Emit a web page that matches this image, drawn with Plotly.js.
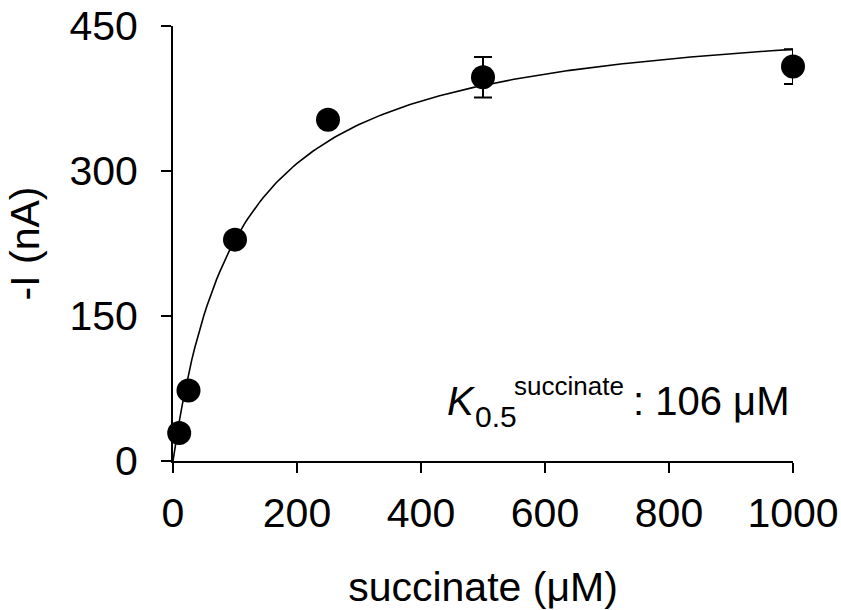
<!DOCTYPE html>
<html>
<head>
<meta charset="utf-8">
<script src="https://cdn.plot.ly/plotly-3.0.1.min.js"></script>
<style>html,body{margin:0;padding:0;background:#fff;}#chart{width:841px;height:610px;}</style>
</head>
<body>
<div id="chart"></div>
<script>
// Measured data
var concentration = [10, 25, 100, 250, 500, 1000];   // succinate (µM)
var current = [29, 73, 229, 353, 397, 408];           // -I (nA)
var currentErr = [0, 0, 0, 0, 21, 18];                // SEM (nA)

// Michaelis-Menten fit parameters
var fitK = 106;   // K0.5 (µM)
var fitVmax = 471; // nA
var fitX = [];
for (var i = 0; i <= 200; i++) fitX.push(i * 5);
var fitY = fitX.map(function (s) { return fitVmax * s / (fitK + s); });

var xTicks = [0, 200, 400, 600, 800, 1000];
var yTicks = [0, 150, 300, 450];

var FONT = 'Liberation Sans, Arial, sans-serif';

var traces = [
  {
    x: fitX, y: fitY, mode: 'lines', type: 'scatter',
    line: {color: '#000', width: 1.6}, hoverinfo: 'skip', cliponaxis: false
  },
  {
    x: concentration, y: current, mode: 'markers', type: 'scatter',
    marker: {color: '#000', size: 24, line: {width: 0}},
    error_y: {type: 'data', array: currentErr, visible: true, color: '#000', thickness: 2, width: 9},
    cliponaxis: false
  }
];

function label(text, size, xshift, yshift, xanchor) {
  return {
    xref: 'x', yref: 'y', x: 1000, y: 58, xanchor: xanchor, yanchor: 'middle',
    xshift: xshift, yshift: yshift, text: text, showarrow: false,
    font: {size: size, family: FONT, color: '#000'}
  };
}

var layout = {
  width: 841, height: 610,
  margin: {l: 172.5, r: 48, t: 26, b: 149},
  paper_bgcolor: '#fff', plot_bgcolor: '#fff',
  showlegend: false,
  font: {family: FONT, color: '#000'},
  xaxis: {
    range: [0, 1000], tickvals: xTicks, ticktext: xTicks.map(String),
    showgrid: false, zeroline: false, showline: true, linecolor: '#000', linewidth: 2,
    ticks: 'outside', ticklen: 10, tickwidth: 2, tickcolor: '#000',
    tickfont: {size: 41, family: FONT, color: '#000'}, ticklabelstandoff: 5,
    title: {text: 'succinate (\u03bcM)', font: {size: 41, family: FONT, color: '#000'}, standoff: 39},
    automargin: false
  },
  yaxis: {
    range: [0, 450], tickvals: yTicks, ticktext: yTicks.map(String),
    showgrid: false, zeroline: false, showline: true, linecolor: '#000', linewidth: 2,
    ticks: 'outside', ticklen: 10, tickwidth: 2, tickcolor: '#000',
    tickfont: {size: 41, family: FONT, color: '#000'}, ticklabelstandoff: 15,
    title: {text: '-I (nA)', font: {size: 41, family: FONT, color: '#000'}, standoff: 17},
    automargin: false
  },
  annotations: [
    label('<i>K</i>', 40, -348, 4, 'left'),
    label('0.5', 30, -320, -12, 'left'),
    label('succinate', 26, -167, 19, 'right'),
    label(': 106 \u03bcM', 40, -2, 4, 'right')
  ]
};

Plotly.newPlot('chart', traces, layout, {displayModeBar: false, staticPlot: true});
</script>
</body>
</html>
